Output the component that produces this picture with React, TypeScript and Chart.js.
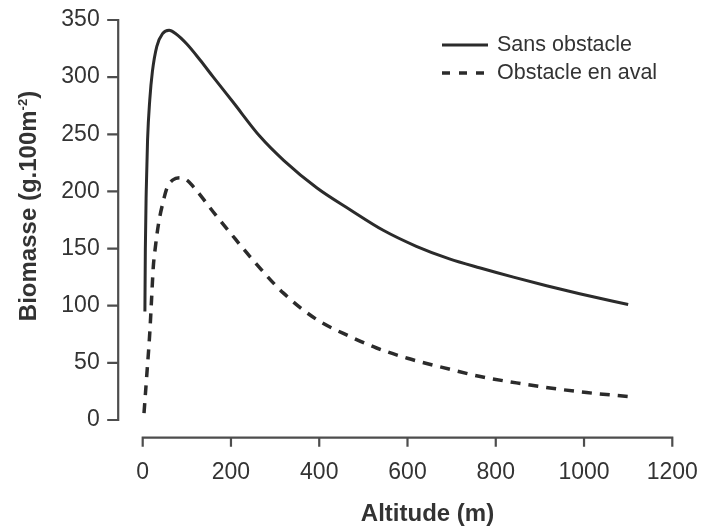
import React, { useEffect, useRef } from "react";
import { Chart, registerables } from "chart.js";

Chart.register(...registerables);

// ---- data ----
const seriesNames = ["Sans obstacle", "Obstacle en aval"];

const altitudeSans = [5, 6, 8, 11, 16, 22, 32, 45, 60, 75, 100, 130, 160, 205, 266, 320, 395, 470, 545, 620, 695, 765, 840, 915, 990, 1100];
const biomassSans = [95, 150, 200, 245, 280, 305, 327, 338, 341, 338, 329, 315, 300, 278, 248, 227, 203, 184, 166, 152, 141, 133, 125, 117.5, 110.5, 101];

const altitudeAval = [3, 9, 16, 20, 24, 28, 36, 47, 55, 68, 85, 100, 115, 130, 160, 200, 243, 319, 394, 470, 530, 600, 700, 765, 847, 923, 1006, 1100];
const biomassAval = [6, 38, 76, 105, 134, 149, 172, 192, 203, 210, 212, 210, 204, 197, 182, 163, 143, 111, 88, 73, 63, 54, 44, 38, 32.5, 28, 24, 20.5];

const xTicks = [0, 200, 400, 600, 800, 1000, 1200];
const yTicks = [0, 50, 100, 150, 200, 250, 300, 350];

const xTitle = "Altitude (m)";
const yTitleMain = "Biomasse (g.100m";
const yTitleSup = "-2";
const yTitleEnd = ")";

const FONT = "'Liberation Sans', Arial, Helvetica, sans-serif";
const INK = "#2b2b2b";
const AXIS = "#4d4d4d";
const TEXT = "#333333";

const decorPlugin = {
  id: "decor",
  afterDraw(chart: any) {
    const { ctx, chartArea, scales } = chart;
    const x = scales.x;
    const y = scales.y;
    const ax = chartArea.left - 24.5;
    const ay = chartArea.bottom + 17.7;
    ctx.save();
    // offset axes with outward ticks
    ctx.strokeStyle = AXIS;
    ctx.lineWidth = 2.2;
    ctx.lineCap = "butt";
    ctx.beginPath();
    ctx.moveTo(ax, y.getPixelForValue(yTicks[yTicks.length - 1]) - 1);
    ctx.lineTo(ax, y.getPixelForValue(yTicks[0]) + 1);
    yTicks.forEach((v) => {
      const py = y.getPixelForValue(v);
      ctx.moveTo(ax - 11, py);
      ctx.lineTo(ax + 1, py);
    });
    ctx.moveTo(x.getPixelForValue(xTicks[0]) - 1, ay);
    ctx.lineTo(x.getPixelForValue(xTicks[xTicks.length - 1]) + 1, ay);
    xTicks.forEach((v) => {
      const px = x.getPixelForValue(v);
      ctx.moveTo(px, ay - 1);
      ctx.lineTo(px, ay + 9);
    });
    ctx.stroke();

    // axis titles
    ctx.fillStyle = TEXT;
    ctx.font = `bold 24px ${FONT}`;
    ctx.textAlign = "center";
    ctx.textBaseline = "alphabetic";
    ctx.fillText(xTitle, x.getPixelForValue(600) + 20, 521);

    ctx.save();
    ctx.translate(36, y.getPixelForValue(175) - 14);
    ctx.rotate(-Math.PI / 2);
    const mainW = ctx.measureText(yTitleMain).width;
    ctx.font = `bold 13px ${FONT}`;
    const supW = ctx.measureText(yTitleSup).width;
    ctx.font = `bold 24px ${FONT}`;
    const endW = ctx.measureText(yTitleEnd).width;
    const total = mainW + supW + endW;
    let cx = -total / 2;
    ctx.textAlign = "left";
    ctx.fillText(yTitleMain, cx, 0);
    cx += mainW;
    ctx.font = `bold 13px ${FONT}`;
    ctx.fillText(yTitleSup, cx, -9);
    cx += supW;
    ctx.font = `bold 24px ${FONT}`;
    ctx.fillText(yTitleEnd, cx, 0);
    ctx.restore();

    // legend
    const lx0 = 442;
    const lx1 = 488;
    const rows = [45, 73];
    ctx.strokeStyle = INK;
    ctx.lineWidth = 3;
    ctx.setLineDash([]);
    ctx.beginPath();
    ctx.moveTo(lx0, rows[0]);
    ctx.lineTo(lx1, rows[0]);
    ctx.stroke();
    ctx.lineWidth = 3.5;
    ctx.setLineDash([8, 9]);
    ctx.beginPath();
    ctx.moveTo(lx0, rows[1]);
    ctx.lineTo(lx1 + 2, rows[1]);
    ctx.stroke();
    ctx.setLineDash([]);
    ctx.font = `21.5px ${FONT}`;
    ctx.textAlign = "left";
    ctx.textBaseline = "middle";
    ctx.fillStyle = TEXT;
    ctx.fillText(seriesNames[0], 497, rows[0]);
    ctx.fillText(seriesNames[1], 497, rows[1]);
    ctx.restore();
  },
};

export default function App() {
  const ref = useRef<HTMLCanvasElement | null>(null);

  useEffect(() => {
    if (!ref.current) return;
    const chart = new Chart(ref.current, {
      type: "line",
      data: {
        datasets: [
          {
            label: seriesNames[0],
            data: altitudeSans.map((a, i) => ({ x: a, y: biomassSans[i] })),
            borderColor: INK,
            borderWidth: 3,
            pointRadius: 0,
            fill: false,
            cubicInterpolationMode: "monotone",
            clip: false,
          },
          {
            label: seriesNames[1],
            data: altitudeAval.map((a, i) => ({ x: a, y: biomassAval[i] })),
            borderColor: INK,
            borderWidth: 3.5,
            borderDash: [10, 8],
            pointRadius: 0,
            fill: false,
            cubicInterpolationMode: "monotone",
            clip: false,
          },
        ],
      },
      options: {
        animation: false,
        responsive: false,
        maintainAspectRatio: false,
        layout: { padding: { top: 20, right: 29.7, left: 0, bottom: 0 } },
        plugins: { legend: { display: false }, tooltip: { enabled: false } },
        scales: {
          x: {
            type: "linear",
            min: xTicks[0],
            max: xTicks[xTicks.length - 1],
            grid: { display: false, drawTicks: false },
            border: { display: false },
            ticks: {
              stepSize: 200,
              padding: 39,
              color: TEXT,
              font: { family: FONT, size: 23 },
              maxRotation: 0,
              autoSkip: false,
              callback: (v: any) => String(v),
            },
            afterFit: (s: any) => {
              s.height = 107;
              s.paddingLeft = 0;
              s.paddingRight = 0;
            },
          },
          y: {
            type: "linear",
            min: yTicks[0],
            max: yTicks[yTicks.length - 1],
            grid: { display: false, drawTicks: false },
            border: { display: false },
            ticks: {
              stepSize: 50,
              padding: 43,
              color: TEXT,
              font: { family: FONT, size: 23 },
              autoSkip: false,
              callback: (v: any) => String(v),
            },
            afterFit: (s: any) => {
              s.width = 142.7;
              s.paddingTop = 0;
              s.paddingBottom = 0;
            },
          },
        },
      },
      plugins: [decorPlugin],
    });
    return () => chart.destroy();
  }, []);

  return (
    <div style={{ position: "absolute", left: 0, top: 0, width: 702, height: 527, background: "#fff" }}>
      <canvas ref={ref} width={702} height={527} style={{ display: "block" }} />
    </div>
  );
}
